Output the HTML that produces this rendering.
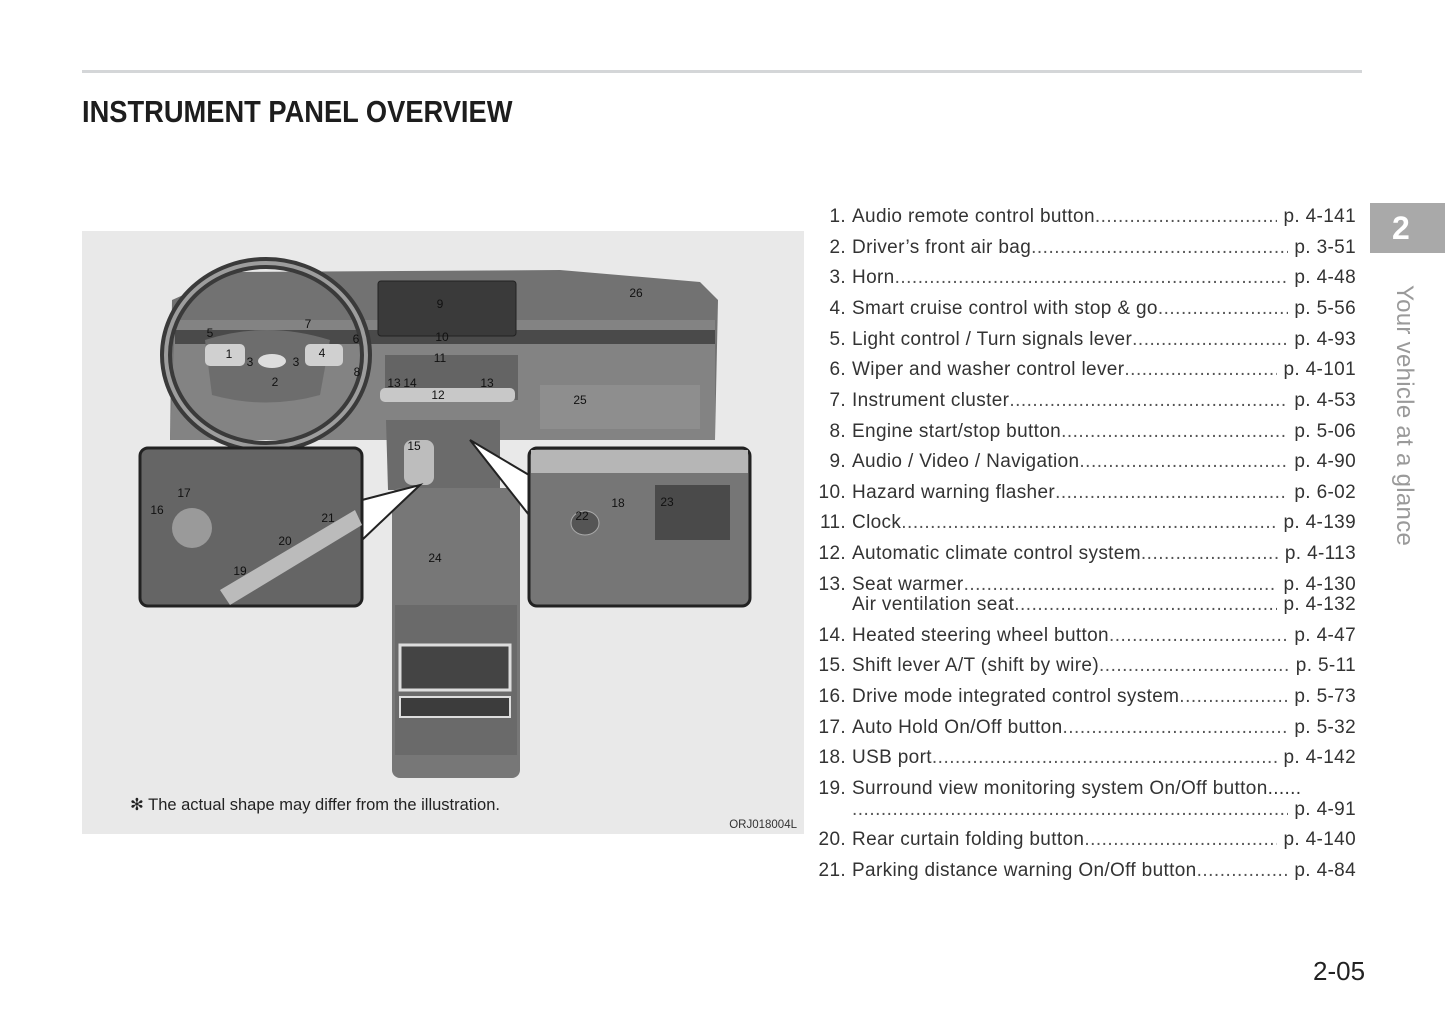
<!DOCTYPE html>
<html><head><meta charset="utf-8"><style>
body{margin:0;width:1445px;height:1019px;background:#fff;position:relative;overflow:hidden;font-family:"Liberation Sans",sans-serif;color:#2a2a2a}
.rule{position:absolute;left:82px;top:70px;width:1280px;height:3px;background:#d4d6d8}
.title{position:absolute;left:82px;top:94px;font-weight:bold;font-size:31px;line-height:36px;transform:scaleX(0.88);transform-origin:0 0;white-space:nowrap;color:#1d1d1d}
.row{position:absolute;left:806px;width:550px;height:22px;display:flex;font-size:19px;letter-spacing:0.35px;line-height:22px;white-space:nowrap;color:#333}
.n{width:40px;text-align:right;padding-right:6px;flex:none}
.t{flex:none}
.d{flex:1;overflow:hidden;color:#555;letter-spacing:0.5px}
.d::after{content:"........................................................................................................................................"}
.p{flex:none;padding-left:6px}
.tab{position:absolute;left:1370px;top:203px;width:75px;height:50px;background:#a9a9a9;color:#fff;font-weight:bold;font-size:32px;line-height:50px;text-align:left;text-indent:22px}
.side{position:absolute;left:1390px;top:285px;writing-mode:vertical-rl;font-size:24px;color:#9a9a9a;letter-spacing:0.3px}
.pg{position:absolute;left:1313px;top:956px;font-size:26px;color:#222}
</style></head><body>
<div class="rule"></div>
<div class="title">INSTRUMENT PANEL OVERVIEW</div>

<svg style="position:absolute;left:82px;top:231px" width="722" height="603" viewBox="82 231 722 603">
<rect x="82" y="231" width="722" height="603" fill="#e9e9e9"/>
<path d="M172 300 L235 272 L560 270 L700 282 L718 300 L715 440 L170 440 Z" fill="#727272"/>
<path d="M175 320 L715 320 L715 440 L170 440 Z" fill="#838383"/>
<rect x="175" y="330" width="540" height="14" fill="#4a4a4a"/>
<rect x="378" y="281" width="138" height="55" rx="3" fill="#3a3a3a" stroke="#222"/>
<rect x="385" y="355" width="133" height="45" fill="#646464"/>
<rect x="380" y="388" width="135" height="14" rx="5" fill="#c8c8c8"/>
<rect x="540" y="385" width="160" height="44" fill="#8e8e8e"/>
<ellipse cx="266" cy="355" rx="100" ry="92" fill="none" stroke="#3a3a3a" stroke-width="12"/>
<ellipse cx="266" cy="355" rx="100" ry="92" fill="none" stroke="#9d9d9d" stroke-width="4"/>
<path d="M205 340 Q266 320 330 340 L320 395 Q266 410 212 395 Z" fill="#6d6d6d"/>
<rect x="205" y="344" width="40" height="22" rx="5" fill="#d0d0d0"/>
<rect x="305" y="344" width="38" height="22" rx="5" fill="#d0d0d0"/>
<ellipse cx="272" cy="361" rx="14" ry="7" fill="#ddd"/>
<path d="M386 420 L500 420 L500 490 L388 490 Z" fill="#6b6b6b"/>
<rect x="392" y="488" width="128" height="290" rx="8" fill="#777"/>
<rect x="395" y="605" width="122" height="150" fill="#6a6a6a"/>
<rect x="400" y="645" width="110" height="45" fill="#444" stroke="#ddd" stroke-width="3"/>
<rect x="400" y="697" width="110" height="20" fill="#3c3c3c" stroke="#ddd" stroke-width="2"/>
<rect x="404" y="440" width="30" height="45" rx="8" fill="#bdbdbd"/>
<path d="M362 500 L420 485 L362 540 Z" fill="#fff" stroke="#222" stroke-width="2"/>
<path d="M529 475 L470 440 L529 515 Z" fill="#fff" stroke="#222" stroke-width="2"/>
<rect x="140" y="448" width="222" height="158" rx="8" fill="#656565" stroke="#222" stroke-width="3"/>
<path d="M220 590 L355 510 L362 525 L230 605 Z" fill="#bbb"/>
<ellipse cx="192" cy="528" rx="20" ry="20" fill="#9a9a9a"/>
<rect x="529" y="448" width="221" height="158" rx="8" fill="#767676" stroke="#222" stroke-width="3"/>
<rect x="531" y="450" width="217" height="23" fill="#b6b6b6"/>
<rect x="655" y="485" width="75" height="55" fill="#4a4a4a"/>
<ellipse cx="585" cy="523" rx="14" ry="12" fill="#555" stroke="#aaa"/>
<g font-family="Liberation Sans,sans-serif" font-size="12" fill="#111" text-anchor="middle">
<text x="440" y="308">9</text><text x="442" y="341">10</text><text x="440" y="362">11</text>
<text x="636" y="297">26</text><text x="580" y="404">25</text><text x="435" y="562">24</text>
<text x="308" y="328">7</text><text x="210" y="337">5</text><text x="356" y="343">6</text>
<text x="229" y="358">1</text><text x="250" y="366">3</text><text x="296" y="366">3</text>
<text x="322" y="357">4</text><text x="275" y="386">2</text><text x="357" y="376">8</text>
<text x="394" y="387">13</text><text x="410" y="387">14</text><text x="487" y="387">13</text>
<text x="438" y="399">12</text><text x="414" y="450">15</text>
<text x="184" y="497">17</text><text x="157" y="514">16</text><text x="328" y="522">21</text>
<text x="285" y="545">20</text><text x="240" y="575">19</text>
<text x="582" y="520">22</text><text x="618" y="507">18</text><text x="667" y="506">23</text>
</g>
<text x="130" y="810" font-family="Liberation Sans,sans-serif" font-size="16.5" fill="#222">✻ The actual shape may differ from the illustration.</text>
<text x="797" y="828" font-family="Liberation Sans,sans-serif" font-size="11.5" fill="#333" text-anchor="end">ORJ018004L</text>
</svg>

<div class="row" style="top:206px"><span class="n">1.</span><span class="t">Audio remote control button</span><span class="d"></span><span class="p">p. 4-141</span></div>
<div class="row" style="top:237px"><span class="n">2.</span><span class="t">Driver’s front air bag</span><span class="d"></span><span class="p">p. 3-51</span></div>
<div class="row" style="top:267px"><span class="n">3.</span><span class="t">Horn</span><span class="d"></span><span class="p">p. 4-48</span></div>
<div class="row" style="top:298px"><span class="n">4.</span><span class="t">Smart cruise control with stop &amp; go</span><span class="d"></span><span class="p">p. 5-56</span></div>
<div class="row" style="top:329px"><span class="n">5.</span><span class="t">Light control / Turn signals lever</span><span class="d"></span><span class="p">p. 4-93</span></div>
<div class="row" style="top:359px"><span class="n">6.</span><span class="t">Wiper and washer control lever</span><span class="d"></span><span class="p">p. 4-101</span></div>
<div class="row" style="top:390px"><span class="n">7.</span><span class="t">Instrument cluster</span><span class="d"></span><span class="p">p. 4-53</span></div>
<div class="row" style="top:421px"><span class="n">8.</span><span class="t">Engine start/stop button</span><span class="d"></span><span class="p">p. 5-06</span></div>
<div class="row" style="top:451px"><span class="n">9.</span><span class="t">Audio / Video / Navigation</span><span class="d"></span><span class="p">p. 4-90</span></div>
<div class="row" style="top:482px"><span class="n">10.</span><span class="t">Hazard warning flasher</span><span class="d"></span><span class="p">p. 6-02</span></div>
<div class="row" style="top:512px"><span class="n">11.</span><span class="t">Clock</span><span class="d"></span><span class="p">p. 4-139</span></div>
<div class="row" style="top:543px"><span class="n">12.</span><span class="t">Automatic climate control system</span><span class="d"></span><span class="p">p. 4-113</span></div>
<div class="row" style="top:574px"><span class="n">13.</span><span class="t">Seat warmer</span><span class="d"></span><span class="p">p. 4-130</span></div>
<div class="row" style="top:594px"><span class="n"></span><span class="t">Air ventilation seat</span><span class="d"></span><span class="p">p. 4-132</span></div>
<div class="row" style="top:625px"><span class="n">14.</span><span class="t">Heated steering wheel button</span><span class="d"></span><span class="p">p. 4-47</span></div>
<div class="row" style="top:655px"><span class="n">15.</span><span class="t">Shift lever A/T (shift by wire)</span><span class="d"></span><span class="p">p. 5-11</span></div>
<div class="row" style="top:686px"><span class="n">16.</span><span class="t">Drive mode integrated control system</span><span class="d"></span><span class="p">p. 5-73</span></div>
<div class="row" style="top:717px"><span class="n">17.</span><span class="t">Auto Hold On/Off button</span><span class="d"></span><span class="p">p. 5-32</span></div>
<div class="row" style="top:747px"><span class="n">18.</span><span class="t">USB port</span><span class="d"></span><span class="p">p. 4-142</span></div>
<div class="row" style="top:778px"><span class="n">19.</span><span class="t">Surround view monitoring system On/Off button......</span><span class="p"></span></div>
<div class="row" style="top:799px"><span class="n"></span><span class="d"></span><span class="p">p. 4-91</span></div>
<div class="row" style="top:829px"><span class="n">20.</span><span class="t">Rear curtain folding button</span><span class="d"></span><span class="p">p. 4-140</span></div>
<div class="row" style="top:860px"><span class="n">21.</span><span class="t">Parking distance warning On/Off button</span><span class="d"></span><span class="p">p. 4-84</span></div>

<div class="tab">2</div>
<div class="side">Your vehicle at a glance</div>
<div class="pg">2-05</div>
</body></html>
